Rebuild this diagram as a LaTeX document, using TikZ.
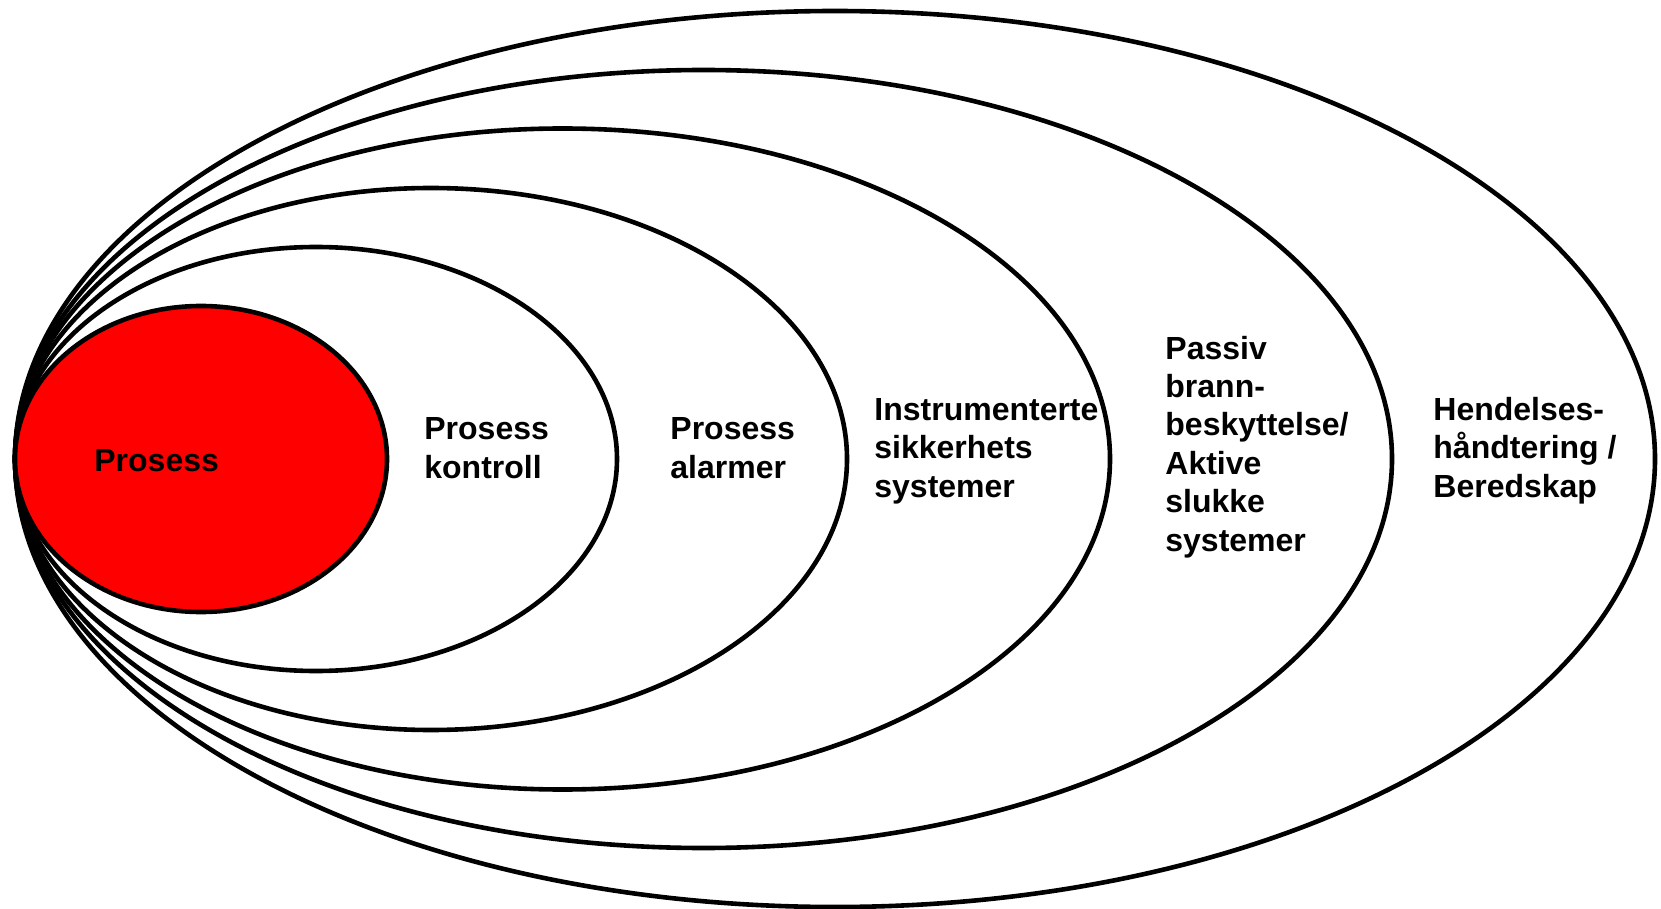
\documentclass[tikz,border=0pt]{standalone}
\usepackage{fontspec}
\setmainfont{Liberation Sans}
\usepackage{tkz-euclide}
\definecolor{ProsessClr}{rgb}{1,0,0}

\begin{document}
\begin{tikzpicture}[x=.5pt,y=-.5pt,
  ring/.style={line width=2.3pt,draw=black},
  lbl/.style={anchor=base west,align=left,inner sep=0pt,
    font=\bfseries\fontsize{16}{19.2}\selectfont}]
\useasboundingbox (0,0) rectangle (1661,909);

\tkzDefPoints{201/459/P,316/459/K,431/459/A,562.5/459/S,703.5/459/B,835/459/H}

\draw[ring] (H) ellipse [x radius=820,y radius=448];
\draw[ring] (B) ellipse [x radius=688.5,y radius=389];
\draw[ring] (S) ellipse [x radius=547.5,y radius=330.5];
\draw[ring] (A) ellipse [x radius=416,y radius=271];
\draw[ring] (K) ellipse [x radius=301,y radius=212];
\draw[ring,fill=ProsessClr] (P) ellipse [x radius=186,y radius=153];

% base = baseline of the last line
\node[lbl] (prosess) at (94,472) {Prosess};
\node[lbl] (kontroll) at (424,478) {Prosess\\kontroll};
\node[lbl] (alarmer) at (670,478) {Prosess\\alarmer};
\node[lbl] (sis) at (874,497) {Instrumenterte\\sikkerhets\\systemer};
\node[lbl] (brann) at (1165,551) {Passiv\\brann-\\beskyttelse/\\Aktive\\slukke\\systemer};
\node[lbl] (beredskap) at (1433,497) {Hendelses-\\håndtering /\\Beredskap};

\end{tikzpicture}
\end{document}
